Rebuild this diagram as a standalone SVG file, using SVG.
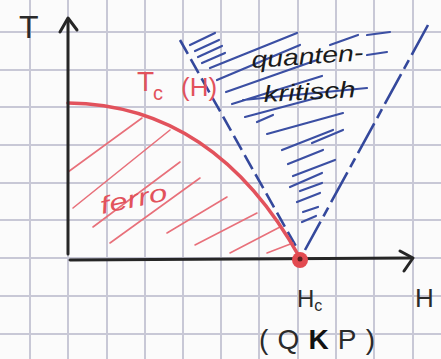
<svg xmlns="http://www.w3.org/2000/svg" width="441" height="359" viewBox="0 0 441 359">
<style>
.grid line{stroke:#c8c8d6;stroke-width:2}
.ax{stroke:#262626;stroke-width:3;fill:none;stroke-linecap:round;stroke-linejoin:round}
.red{stroke:#e2525c;fill:none;stroke-linecap:round}
.rh{stroke:#e8707a;stroke-width:1.6;fill:none;stroke-linecap:round}
.bh{stroke:#3b4fa3;stroke-width:2.2;fill:none;stroke-linecap:round}
.bd{stroke:#34489c;stroke-width:2.6;fill:none}
.lbl{font-family:"Liberation Sans",Arial,sans-serif;fill:#2a2a2a}
.rl{font-family:"Liberation Sans",Arial,sans-serif;fill:#e2525c}
.hw{font-family:"Liberation Sans",Arial,sans-serif;fill:#1a1a1a;font-style:italic}
</style>
<rect width="441" height="359" fill="#fbfbfb"/>
<g class="grid">
<line x1="30" y1="0" x2="30" y2="359"/><line x1="68" y1="0" x2="68" y2="359"/><line x1="107" y1="0" x2="107" y2="359"/><line x1="145" y1="0" x2="145" y2="359"/><line x1="183" y1="0" x2="183" y2="359"/><line x1="221" y1="0" x2="221" y2="359"/><line x1="259" y1="0" x2="259" y2="359"/><line x1="298" y1="0" x2="298" y2="359"/><line x1="336" y1="0" x2="336" y2="359"/><line x1="374" y1="0" x2="374" y2="359"/><line x1="413" y1="0" x2="413" y2="359"/>
<line x1="0" y1="32" x2="441" y2="32"/><line x1="0" y1="70" x2="441" y2="70"/><line x1="0" y1="107" x2="441" y2="107"/><line x1="0" y1="145" x2="441" y2="145"/><line x1="0" y1="183" x2="441" y2="183"/><line x1="0" y1="220" x2="441" y2="220"/><line x1="0" y1="258" x2="441" y2="258"/><line x1="0" y1="296" x2="441" y2="296"/><line x1="0" y1="334" x2="441" y2="334"/>
</g>
<g id="quantum-region">
<path class="bd" d="M180,40 L298,250" stroke-dasharray="16 6"/>
<path class="bd" d="M428,25 L305,250" stroke-dasharray="34 6 10 6"/>
<path class="bh" d="M190,45 L215,33 M195,51 L219,40 M198,57 L222,46 M202,63 L225,53 M210,68 L297,33 M217,80 L300,45 M330,45 L358,35 M367,35 L390,32 M367,55 L387,52 M226,92 L317,60 M232,104 L322,76 M243,100 L367,88 M245,117 L320,97 M257,122 L273,115 M267,134 L343,113 M282,150 L333,130 M312,143 L343,130 M288,164 L323,150 M293,176 L335,160 M290,187 L322,173 M300,191 L322,183 M297,202 L320,193 M303,212 L318,207 M302,222 L316,216"/>
</g>
<g id="ferro-region">
<path class="rh" d="M68,172 L142,118 M73,208 L170,130 M93,227 L180,162 M110,243 L200,178 M167,233 L227,197 M195,245 L257,213 M230,253 L280,227 M267,253 L293,243"/>
<path class="red" stroke-width="3.5" d="M68,103 C160,104 240,150 300,258"/>
<text class="rl" x="102" y="214" font-size="24" font-style="italic" textLength="68" lengthAdjust="spacingAndGlyphs" transform="rotate(-12 102 214)">ferro</text>
<text class="rl" x="137" y="91" font-size="28">T</text>
<text class="rl" x="153" y="100" font-size="20">c</text>
<text class="rl" x="181" y="96" font-size="26">(H)</text>
</g>
<g id="axes">
<path class="ax" d="M68,254 L68,20"/>
<path class="ax" d="M60,32 L68,18 L77,30"/>
<path class="ax" d="M70,260 L410,258"/>
<path class="ax" d="M400,251 L413,258 L404,271"/>
<text class="lbl" x="19" y="38" font-size="32">T</text>
<text class="lbl" x="415" y="307" font-size="26">H</text>
</g>
<g id="qkp">
<circle cx="300" cy="260" r="8" fill="#e24a50"/>
<circle cx="300" cy="259" r="2.5" fill="#5a2020"/>
<text class="lbl" x="297" y="307" font-size="24">H<tspan font-size="16" dy="4">c</tspan></text>
<text class="lbl" x="259" y="349" font-size="28" textLength="116" lengthAdjust="spacing">(Q<tspan font-weight="bold" fill="#111">K</tspan>P)</text>
</g>
<g id="quanten-label">
<text class="hw" x="252" y="68" font-size="23" textLength="112" lengthAdjust="spacingAndGlyphs" transform="rotate(-4 252 68)">quanten-</text>
<text class="hw" x="264" y="102" font-size="23" textLength="92" lengthAdjust="spacingAndGlyphs" transform="rotate(-3 264 102)">kritisch</text>
</g>
</svg>
